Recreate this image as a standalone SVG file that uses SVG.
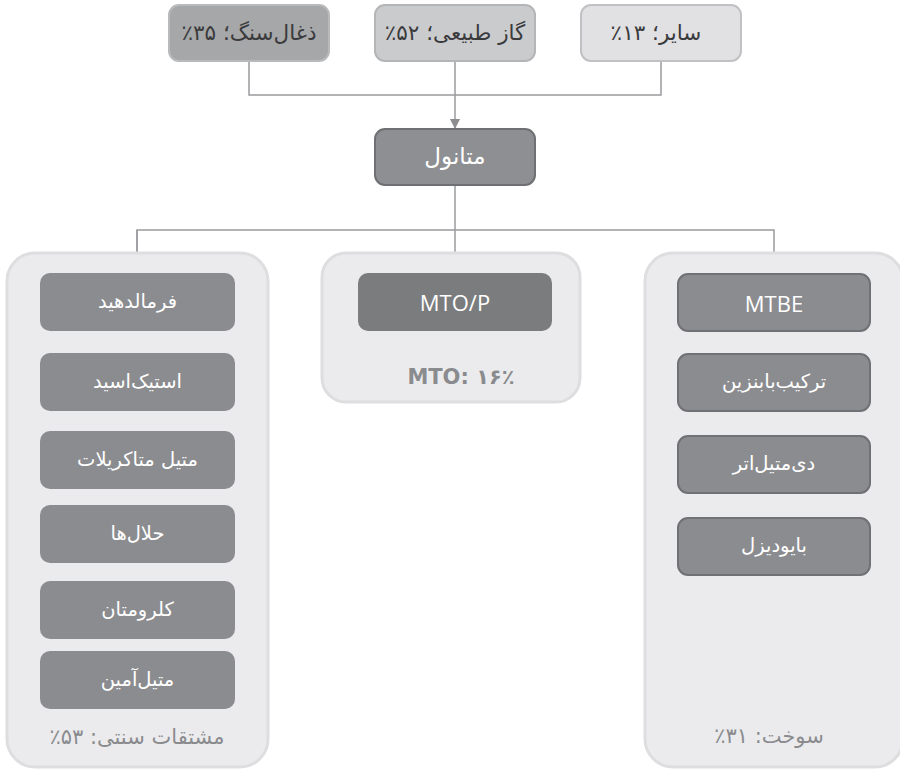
<svg xmlns="http://www.w3.org/2000/svg" width="900" height="769" viewBox="0 0 900 769">
<defs>
<marker id="arr" viewBox="0 0 10 10" refX="10" refY="5" markerWidth="10" markerHeight="10" markerUnits="userSpaceOnUse" orient="auto">
<path d="M0,0 L10,5 L0,10 z" fill="#8c8d90"/>
</marker>
<style>
.fa{font-family:"DejaVu Sans",sans-serif;direction:rtl;text-anchor:middle;dominant-baseline:central}
.lat{font-family:"Open Sans","DejaVu Sans",sans-serif;text-anchor:middle;dominant-baseline:central}
.panel{fill:#ebebed;stroke:#dedee0;stroke-width:3}
.top{font-size:21.5px;fill:#3a3a3c}
.wt{font-size:19.5px;fill:#ffffff}
.lab{font-size:21px;fill:#8a8b8e}
.lbox{fill:#8b8c8f}
.rbox{fill:#8b8c8f;stroke:#707174;stroke-width:2}
.conn{fill:none;stroke:#9a9b9e;stroke-width:1.5}
</style>
</defs>
<rect width="900" height="769" fill="#ffffff"/>

<g id="connectors">
<path class="conn" d="M249,61 V95 H661 V61"/>
<path class="conn" d="M455,61 V129" marker-end="url(#arr)"/>
<path class="conn" d="M455,186 V273" marker-end="url(#arr)"/>
<path class="conn" d="M137,273 V230 H774 V273" marker-end="url(#arr)"/>
<path class="conn" d="M137,230 V273" marker-end="url(#arr)"/>
</g>

<g id="coal">
<rect x="169" y="5" width="160" height="56" rx="10" fill="#a6a7a9" stroke="#b9babc" stroke-width="2"/>
<text class="fa top" x="249" y="32">ذغال‌سنگ؛ ۳۵٪</text>
</g>
<g id="gas">
<rect x="375" y="5" width="160" height="56" rx="10" fill="#cacbcd" stroke="#b4b5b7" stroke-width="2"/>
<text class="fa top" x="455" y="32">گاز طبیعی؛ ۵۲٪</text>
</g>
<g id="other">
<rect x="581" y="5" width="160" height="56" rx="10" fill="#e1e1e3" stroke="#c0c1c3" stroke-width="2"/>
<text class="fa top" x="656" y="32">سایر؛ ۱۳٪</text>
</g>

<g id="methanol">
<rect x="375" y="129" width="160" height="56" rx="10" fill="#8e8f92" stroke="#6f7073" stroke-width="2"/>
<text class="fa" x="455" y="156" font-size="23" fill="#ffffff">متانول</text>
</g>

<g id="panel-traditional">
<rect class="panel" x="7" y="253" width="261" height="514" rx="28"/>
<text class="fa lab" x="137" y="737">مشتقات سنتی: ۵۳٪</text>
</g>
<g id="panel-mto">
<rect class="panel" x="322" y="253" width="258" height="149" rx="24"/>
<text class="fa lab" x="461" y="377" font-size="18" font-weight="bold">MTO: ۱۶٪</text>
</g>
<g id="panel-fuel">
<rect class="panel" x="645" y="253" width="258" height="514" rx="28"/>
<text class="fa lab" x="769" y="736">سوخت: ۳۱٪</text>
</g>

<g id="formaldehyde"><rect class="lbox" x="40" y="273" width="195" height="58" rx="10"/><text class="fa wt" x="137.5" y="301">فرمالدهید</text></g>
<g id="acetic-acid"><rect class="lbox" x="40" y="353" width="195" height="58" rx="10"/><text class="fa wt" x="137.5" y="381">استیک‌اسید</text></g>
<g id="mma"><rect class="lbox" x="40" y="431" width="195" height="58" rx="10"/><text class="fa wt" x="137.5" y="459">متیل متاکریلات</text></g>
<g id="solvents"><rect class="lbox" x="40" y="505" width="195" height="58" rx="10"/><text class="fa wt" x="137.5" y="533">حلال‌ها</text></g>
<g id="chloromethane"><rect class="lbox" x="40" y="581" width="195" height="58" rx="10"/><text class="fa wt" x="137.5" y="609">کلرومتان</text></g>
<g id="methylamine"><rect class="lbox" x="40" y="651" width="195" height="58" rx="10"/><text class="fa wt" x="137.5" y="679">متیل‌آمین</text></g>

<g id="mtop"><rect x="358" y="273" width="194" height="58" rx="10" fill="#7b7c7e"/><text class="lat" x="455" y="302" font-size="22" fill="#ffffff">MTO/P</text></g>

<g id="mtbe"><rect class="rbox" x="678" y="274" width="192" height="57" rx="10"/><text class="lat" x="774" y="302.5" font-size="22" fill="#ffffff">MTBE</text></g>
<g id="gasoline-blend"><rect class="rbox" x="678" y="354" width="192" height="57" rx="10"/><text class="fa wt" x="774" y="381.5">ترکیب‌بابنزین</text></g>
<g id="dme"><rect class="rbox" x="678" y="436" width="192" height="57" rx="10"/><text class="fa wt" x="774" y="463.5">دی‌متیل‌اتر</text></g>
<g id="biodiesel"><rect class="rbox" x="678" y="518" width="192" height="57" rx="10"/><text class="fa wt" x="774" y="545.5">بایودیزل</text></g>
</svg>
